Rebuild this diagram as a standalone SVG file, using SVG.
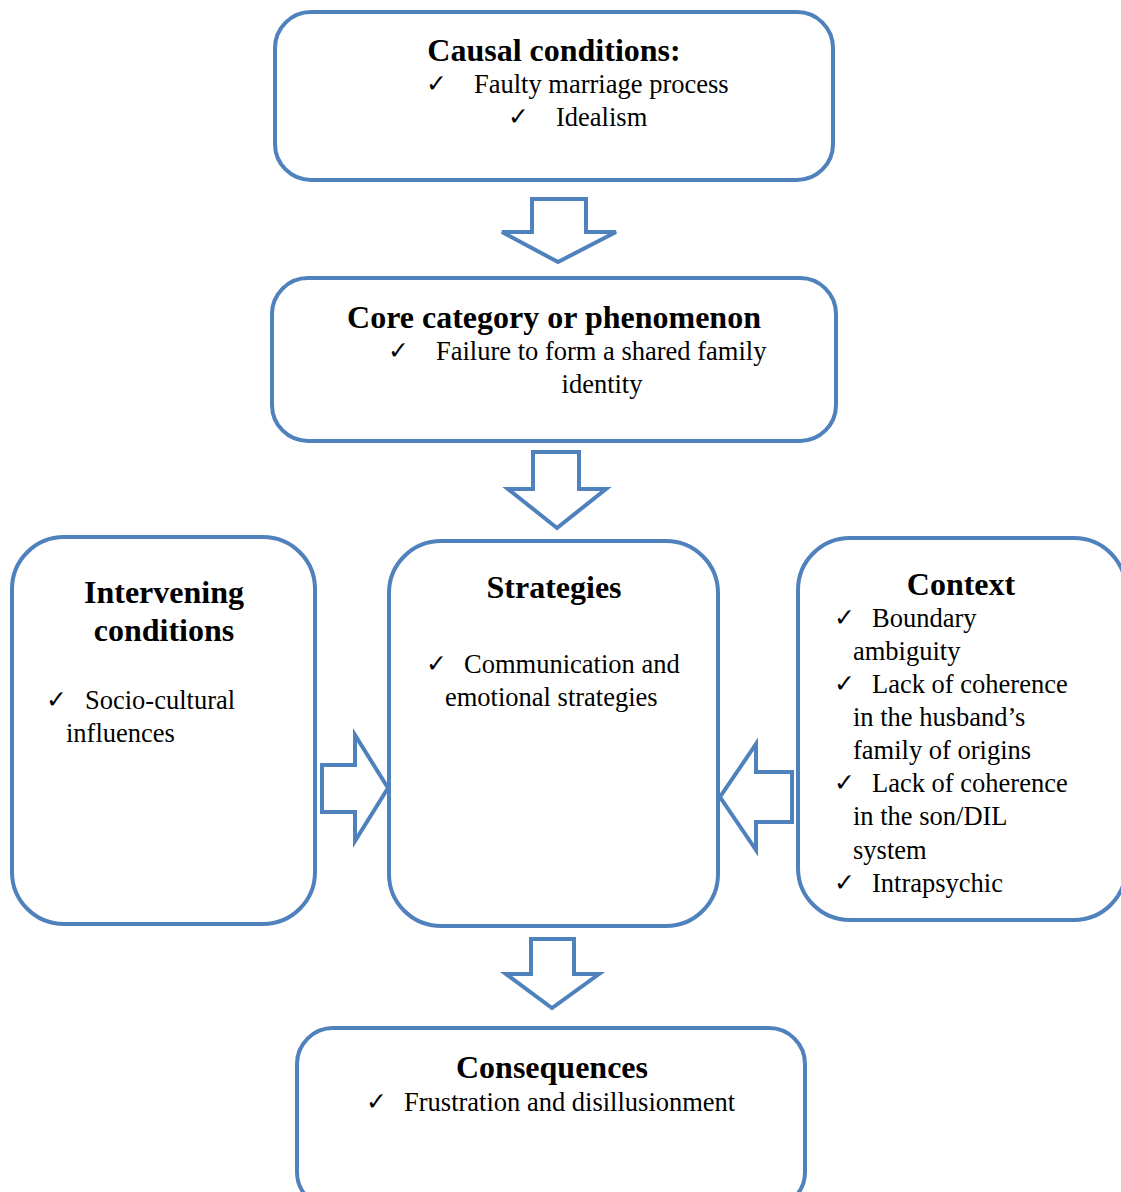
<svg xmlns="http://www.w3.org/2000/svg" width="1121" height="1192" viewBox="0 0 1121 1192">
<style>
.box{fill:#fff;stroke:#4F81BD;stroke-width:4}
.arr{fill:#fff;stroke:#4F81BD;stroke-width:4;stroke-linejoin:miter}
.t{font-family:"Liberation Serif","Times New Roman",serif;font-size:32px;font-weight:bold;fill:#000}
.b{font-family:"Liberation Serif","Times New Roman",serif;font-size:26.5px;fill:#000}
.c{font-family:"DejaVu Sans",sans-serif;font-size:25px;fill:#000}
</style>
<rect width="1121" height="1192" fill="#fff"/>
<g id="connectors">
<polygon class="arr" points="532,199 586,199 586,232 616,232 558,262 502,232 532,232"/>
<polygon class="arr" points="533,452 579,452 579,489 606,489 557,528 508,489 533,489"/>
<polygon class="arr" points="531,939 574,939 574,974 599,974 552,1008 506,974 531,974"/>
<polygon class="arr" points="322,765 355,765 355,735 388,788 355,841 355,812 322,812"/>
<polygon class="arr" points="792,772 756,772 756,744 720,797 756,850 756,822 792,822"/>
</g>
<g id="causal">
<rect class="box" x="275" y="12" width="558" height="168" rx="36"/>
<text class="t" x="554" y="61" text-anchor="middle">Causal conditions:</text>
<text class="c" x="426" y="92">✓</text>
<text class="b" x="474" y="93">Faulty marriage process</text>
<text class="c" x="508" y="125">✓</text>
<text class="b" x="556" y="126">Idealism</text>
</g>
<g id="core">
<rect class="box" x="272" y="278" width="564" height="163" rx="36"/>
<text class="t" x="554" y="328" text-anchor="middle">Core category or phenomenon</text>
<text class="c" x="388" y="359">✓</text>
<text class="b" x="436" y="360">Failure to form a shared family</text>
<text class="b" x="602" y="393" text-anchor="middle">identity</text>
</g>
<g id="intervening">
<rect class="box" x="12" y="537" width="303" height="387" rx="52"/>
<text class="t" x="164" y="603" text-anchor="middle">Intervening</text>
<text class="t" x="164" y="641" text-anchor="middle">conditions</text>
<text class="c" x="46" y="708">✓</text>
<text class="b" x="85" y="709">Socio-cultural</text>
<text class="b" x="66" y="742">influences</text>
</g>
<g id="strategies">
<rect class="box" x="389" y="541" width="329" height="385" rx="52"/>
<text class="t" x="554" y="598" text-anchor="middle">Strategies</text>
<text class="c" x="426" y="672">✓</text>
<text class="b" x="464" y="673">Communication and</text>
<text class="b" x="445" y="706">emotional strategies</text>
</g>
<g id="context">
<rect class="box" x="798" y="538" width="328" height="382" rx="52"/>
<text class="t" x="961" y="595" text-anchor="middle">Context</text>
<text class="c" x="834" y="626">✓</text>
<text class="b" x="872" y="627">Boundary</text>
<text class="b" x="853" y="660">ambiguity</text>
<text class="c" x="834" y="692">✓</text>
<text class="b" x="872" y="693">Lack of coherence</text>
<text class="b" x="853" y="726">in the husband’s</text>
<text class="b" x="853" y="759">family of origins</text>
<text class="c" x="834" y="791">✓</text>
<text class="b" x="872" y="792">Lack of coherence</text>
<text class="b" x="853" y="825">in the son/DIL</text>
<text class="b" x="853" y="859">system</text>
<text class="c" x="834" y="891">✓</text>
<text class="b" x="872" y="892">Intrapsychic</text>
</g>
<g id="consequences">
<rect class="box" x="297" y="1028" width="508" height="180" rx="36"/>
<text class="t" x="552" y="1078" text-anchor="middle">Consequences</text>
<text class="c" x="366" y="1110">✓</text>
<text class="b" x="404" y="1111">Frustration and disillusionment</text>
</g>
</svg>
